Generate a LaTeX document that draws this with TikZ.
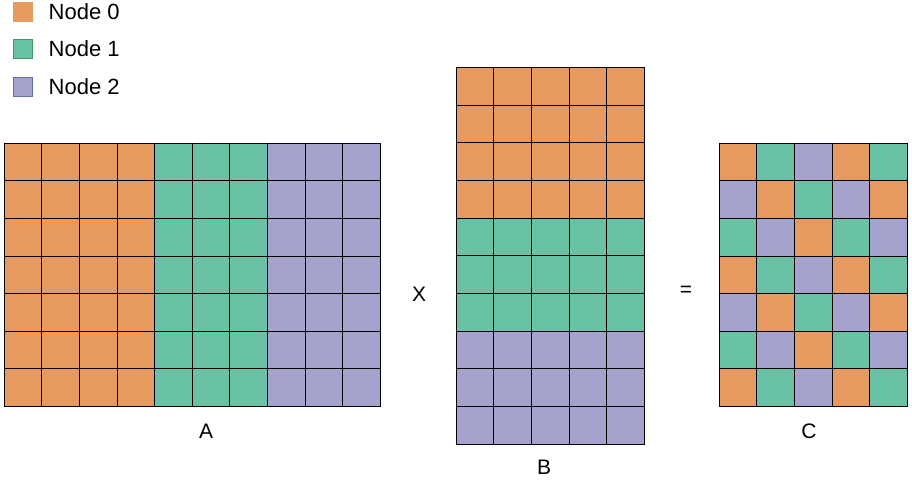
\documentclass[tikz,border=0pt]{standalone}
\usepackage{fontspec}
\setmainfont{Liberation Sans}
\usetikzlibrary{positioning}

\definecolor{nodecolor0}{RGB}{230,154,96}
\definecolor{nodecolor1}{RGB}{106,194,166}
\definecolor{nodecolor2}{RGB}{166,162,206}
\definecolor{keyborder1}{RGB}{72,150,100}
\definecolor{keyborder2}{RGB}{100,110,180}

\begin{document}
\begin{tikzpicture}[
  x=1pt, y=-1pt,
  node distance=16pt,
  cell/.style={draw=black, line width=0.9pt},
  key/.style={rectangle, minimum size=19pt, inner sep=0pt, line width=1pt},
  keytext/.style={inner sep=0pt, font=\fontsize{22}{25}\selectfont},
  lbl/.style={inner sep=0pt, font=\fontsize{21}{24}\selectfont},
  op/.style={inner sep=0pt, font=\fontsize{21}{24}\selectfont}
]
\useasboundingbox (0,0) rectangle (912,482);
\def\w{37.65}

% legend
\node[key, fill=nodecolor0, draw=nodecolor0] (key0) at (22.5,11.5) {};
\node[key, fill=nodecolor1, draw=keyborder1, below=17.5pt of key0] (key1) {};
\node[key, fill=nodecolor2, draw=keyborder2, below=17.5pt of key1] (key2) {};
\node[keytext, right=16pt of key0] (txt0) {Node 0};
\node[keytext, right=16pt of key1] (txt1) {Node 1};
\node[keytext, right=16pt of key2] (txt2) {Node 2};

% matrix A: columns split by node
\foreach \c in {0,...,9}
  \foreach \r in {0,...,6} {
    \pgfmathtruncatemacro\k{\c<4 ? 0 : (\c<7 ? 1 : 2)}
    \filldraw[cell, fill=nodecolor\k] ({4+\c*\w},{143+\r*\w}) rectangle +(\w,\w);
  }

% matrix B: rows split by node
\foreach \c in {0,...,4}
  \foreach \r in {0,...,9} {
    \pgfmathtruncatemacro\k{\r<4 ? 0 : (\r<7 ? 1 : 2)}
    \filldraw[cell, fill=nodecolor\k] ({456+\c*\w},{67.5+\r*\w}) rectangle +(\w,\w);
  }

% matrix C: cyclic pattern
\foreach \c in {0,...,4}
  \foreach \r in {0,...,6} {
    \pgfmathtruncatemacro\k{mod(\c-\r+9,3)}
    \filldraw[cell, fill=nodecolor\k] ({719+\c*\w},{143+\r*\w}) rectangle +(\w,\w);
  }

% labels
\node[lbl] (labA) at (206,431) {A};
\node[op] (times) at (419,294) {X};
\node[lbl] (labB) at (544,467) {B};
\node[op] (equals) at (686,291) {=};
\node[lbl] (labC) at (809,431) {C};
\end{tikzpicture}
\end{document}
